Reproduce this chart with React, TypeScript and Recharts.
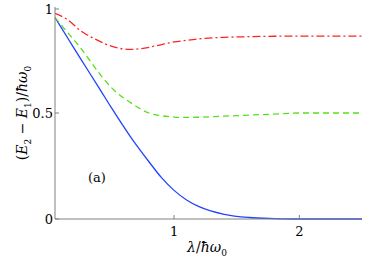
import { LineChart, Line, XAxis, YAxis } from 'recharts';

const lambda = [0.05, 0.15, 0.25, 0.4, 0.5, 0.65, 0.8, 0.9, 1.0, 1.1, 1.2, 1.4, 1.6, 1.8, 2.0, 2.25, 2.5];
const blueGap = [0.95, 0.855, 0.76, 0.62, 0.525, 0.39, 0.27, 0.195, 0.135, 0.09, 0.058, 0.022, 0.007, 0.002, 0, 0, 0];
const greenGap = [0.95, 0.88, 0.81, 0.69, 0.62, 0.55, 0.5, 0.487, 0.481, 0.479, 0.48, 0.485, 0.49, 0.495, 0.5, 0.5, 0.5];
const redGap = [0.97, 0.94, 0.89, 0.84, 0.815, 0.8, 0.81, 0.823, 0.835, 0.843, 0.85, 0.857, 0.86, 0.862, 0.863, 0.863, 0.863];
const xTicks = [1, 2];
const yTicks = [0, 0.5, 1];

const data = lambda.map((x, i) => ({ x, blue: blueGap[i], green: greenGap[i], red: redGap[i] }));

const serif = 'DejaVu Serif';
const axisColor = '#808080';

const BottomTick = ({ x, y, payload }: any) => (
  <g>
    <line x1={x} x2={x} y1={y} y2={y - 4} stroke={axisColor} />
    <text x={x} y={y + 17} textAnchor="middle" fontSize={13} fontFamily={serif} fill="#000">
      {payload.value}
    </text>
  </g>
);

const TopTick = ({ x, y }: any) => <line x1={x} x2={x} y1={y} y2={y + 4} stroke={axisColor} />;

const LeftTick = ({ x, y, payload }: any) => (
  <g>
    <line x1={x} x2={x + 4} y1={y} y2={y} stroke={axisColor} />
    <text x={x - 2} y={y + 5} textAnchor="end" fontSize={13} fontFamily={serif} fill="#000">
      {payload.value}
    </text>
  </g>
);

const RightTick = ({ x, y }: any) => <line x1={x} x2={x - 4} y1={y} y2={y} stroke={axisColor} />;

const YLabel = () => (
  <text
    transform="translate(27,113) rotate(-90)"
    textAnchor="middle"
    fontSize={14}
    fontFamily={serif}
    fill="#000"
  >
    (<tspan fontStyle="italic">E</tspan>
    <tspan fontSize={9} dy={4}>2</tspan>
    <tspan dy={-4}> − </tspan>
    <tspan fontStyle="italic">E</tspan>
    <tspan fontSize={9} dy={4}>1</tspan>
    <tspan dy={-4}>)/</tspan>
    <tspan fontStyle="italic">ħω</tspan>
    <tspan fontSize={9} dy={4}>0</tspan>
  </text>
);

const XLabel = () => (
  <g>
    <text x={207} y={252} textAnchor="middle" fontSize={14} fontFamily={serif} fill="#000">
      <tspan fontStyle="italic">λ</tspan>
      <tspan>/</tspan>
      <tspan fontStyle="italic">ħω</tspan>
      <tspan fontSize={9} dy={4}>0</tspan>
    </text>
    <text x={97} y={182} textAnchor="middle" fontSize={13} fontFamily={serif} fill="#000">
      (a)
    </text>
  </g>
);

export default function App() {
  return (
    <div style={{ position: 'absolute', left: 0, top: 0, background: '#fff', fontFamily: serif }}>
      <LineChart width={382} height={260} data={data} margin={{ top: 7, right: 20, bottom: 0, left: 0 }}>
        <XAxis
          type="number"
          dataKey="x"
          domain={[0.05, 2.5]}
          ticks={xTicks}
          allowDataOverflow
          height={41}
          stroke={axisColor}
          tickSize={0}
          tickMargin={0}
          tick={<BottomTick />}
          label={{ content: () => <XLabel /> }}
        />
        <XAxis
          xAxisId="top"
          orientation="top"
          type="number"
          dataKey="x"
          domain={[0.05, 2.5]}
          ticks={xTicks}
          allowDataOverflow
          height={0}
          stroke={axisColor}
          tickSize={0}
          tickMargin={0}
          tick={<TopTick />}
        />
        <YAxis
          type="number"
          domain={[0, 1]}
          ticks={yTicks}
          width={55}
          stroke={axisColor}
          tickSize={0}
          tickMargin={0}
          tick={<LeftTick />}
          label={{ content: () => <YLabel /> }}
        />
        <YAxis
          yAxisId="right"
          orientation="right"
          type="number"
          domain={[0, 1]}
          ticks={yTicks}
          width={0}
          stroke={axisColor}
          tickSize={0}
          tickMargin={0}
          tick={<RightTick />}
        />
        <Line type="monotone" dataKey="blue" stroke="#2244ff" strokeWidth={1.3} dot={false} isAnimationActive={false} />
        <Line
          type="monotone"
          dataKey="green"
          stroke="#55e01a"
          strokeWidth={1.3}
          strokeDasharray="6 4"
          dot={false}
          isAnimationActive={false}
        />
        <Line
          type="monotone"
          dataKey="red"
          stroke="#ff2222"
          strokeWidth={1.3}
          strokeDasharray="8 3 2 3"
          dot={false}
          isAnimationActive={false}
        />
      </LineChart>
    </div>
  );
}
